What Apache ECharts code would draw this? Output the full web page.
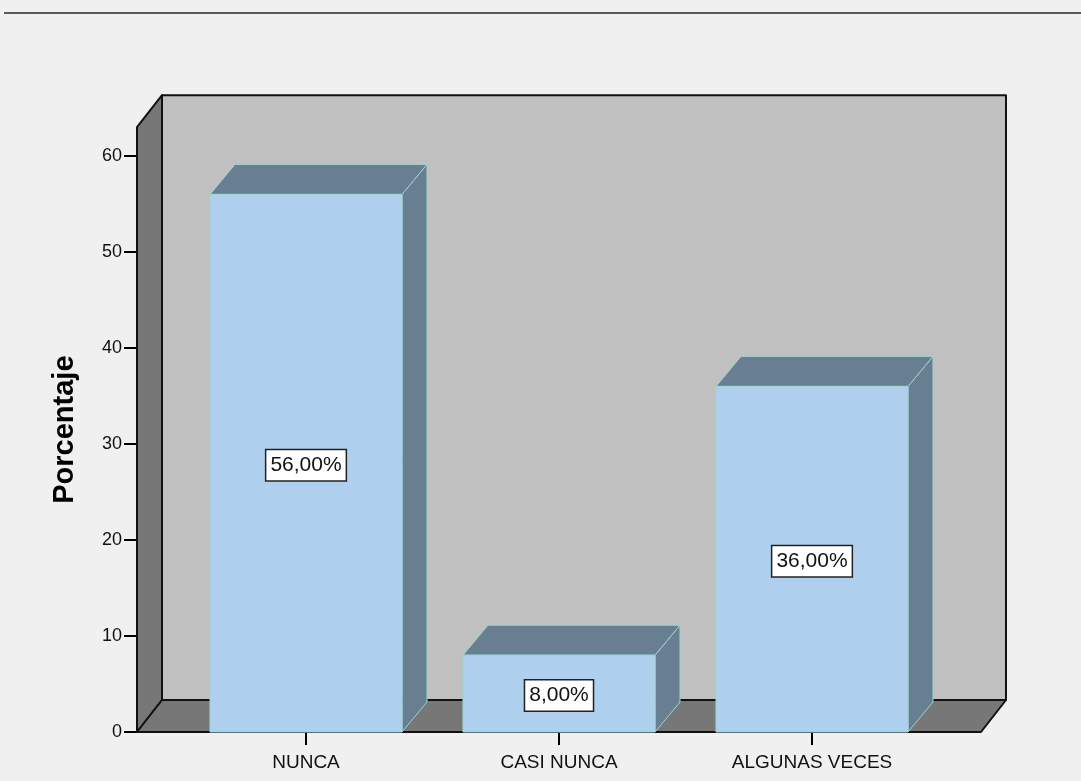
<!DOCTYPE html>
<html>
<head>
<meta charset="utf-8">
<script src="https://cdn.jsdelivr.net/npm/echarts@6/dist/echarts.min.js"></script>
<style>
html,body{margin:0;padding:0;background:#f0f0f0;}
#chart{width:1081px;height:781px;}
</style>
</head>
<body>
<div id="chart"></div>
<script>
// ---- data ----
var categories = ['NUNCA', 'CASI NUNCA', 'ALGUNAS VECES'];
var values = [56, 8, 36];
var yTicks = [0, 10, 20, 30, 40, 50, 60];
var yMax = 63;
var yTitle = 'Porcentaje';

// ---- style / layout constants ----
var FONT = '"Liberation Sans", Arial, sans-serif';
var PAD = 42.5;      // floor extends beyond category band area
var WDX = 25, WDY = 32; // wall depth
var BDX = 25, BDY = 30; // bar depth
var BAR_RATIO = 0.759;

function fmt(v){ return v.toFixed(2).replace('.', ',') + '%'; }

var chart = echarts.init(document.getElementById('chart'), null, {renderer:'canvas'});

var option = {
  backgroundColor: '#f0f0f0',
  animation: false,
  graphic: [
    {type:'line', shape:{x1:4, y1:13, x2:1081, y2:13}, style:{stroke:'#5a5a5a', lineWidth:2}, z:100}
  ],
  grid: {left:179.5, right:142.5, top:127.2, bottom:49, containLabel:false},
  xAxis: {
    type:'category',
    data: categories,
    axisLine:{show:false},
    axisTick:{show:true, alignWithLabel:true, length:13, lineStyle:{color:'#000', width:2}},
    axisLabel:{fontSize:19, margin:21, color:'#111', fontFamily:FONT},
    splitLine:{show:false}
  },
  yAxis: {
    type:'value', min:0, max:yMax, interval:10, offset:PAD,
    axisLine:{show:false},
    axisTick:{show:true, length:13, lineStyle:{color:'#000', width:2}, customValues:yTicks},
    axisLabel:{customValues:yTicks, fontSize:18, margin:15, color:'#111', fontFamily:FONT},
    splitLine:{show:false},
    name: yTitle, nameLocation:'middle', nameRotate:90, nameGap:58,
    nameTextStyle:{fontSize:29, fontWeight:'bold', color:'#000', fontFamily:FONT}
  },
  series: [
    {
      type:'custom', z:1, silent:true,
      data:[[0,0]],
      renderItem: function(params, api){
        var cs = params.coordSys;
        var fl = cs.x - PAD, fr = cs.x + cs.width + PAD;
        var yb = api.coord([0, 0])[1], yt = api.coord([0, yMax])[1];
        var edge = {stroke:'#111', lineWidth:2, lineJoin:'round'};
        return {type:'group', children:[
          {type:'polygon', shape:{points:[[fl+WDX,yt-WDY],[fr+WDX,yt-WDY],[fr+WDX,yb-WDY],[fl+WDX,yb-WDY]]},
            style:Object.assign({fill:'#c0c0c0'}, edge)},
          {type:'polygon', shape:{points:[[fl,yb],[fl,yt],[fl+WDX,yt-WDY],[fl+WDX,yb-WDY]]},
            style:Object.assign({fill:'#777777'}, edge)},
          {type:'polygon', shape:{points:[[fl,yb],[fl+WDX,yb-WDY],[fr+WDX,yb-WDY],[fr,yb]]},
            style:Object.assign({fill:'#777777'}, edge)}
        ]};
      }
    },
    {
      type:'custom', z:2, silent:true,
      data: values.map(function(v,i){ return [i, v]; }),
      encode:{x:0, y:1},
      renderItem: function(params, api){
        var i = api.value(0), v = api.value(1);
        var top = api.coord([i, v]);
        var base = api.coord([i, 0]);
        var mid = api.coord([i, v/2]);
        var bw = api.size([1, 0])[0] * BAR_RATIO;
        var xl = top[0] - bw/2, xr = top[0] + bw/2;
        var yt = top[1], yb = base[1];
        var edge = {stroke:'#9fd4d4', lineWidth:1};
        return {type:'group', children:[
          {type:'polygon', shape:{points:[[xr,yt],[xr+BDX,yt-BDY],[xr+BDX,yb-BDY],[xr,yb]]},
            style:Object.assign({fill:'#687e91'}, edge)},
          {type:'polygon', shape:{points:[[xl,yt],[xl+BDX,yt-BDY],[xr+BDX,yt-BDY],[xr,yt]]},
            style:Object.assign({fill:'#687e91'}, edge)},
          {type:'rect', shape:{x:xl, y:yt, width:bw, height:yb-yt},
            style:Object.assign({fill:'#aecfed'}, edge)},
          {type:'text', x:mid[0], y:mid[1] + 2,
            style:{text:fmt(v), fill:'#111', font:'21px ' + FONT, align:'center', verticalAlign:'middle',
              backgroundColor:'#ffffff', borderColor:'#222', borderWidth:1.5, padding:[5,4,4,4]}}
        ]};
      }
    }
  ]
};
chart.setOption(option);
</script>
</body>
</html>
